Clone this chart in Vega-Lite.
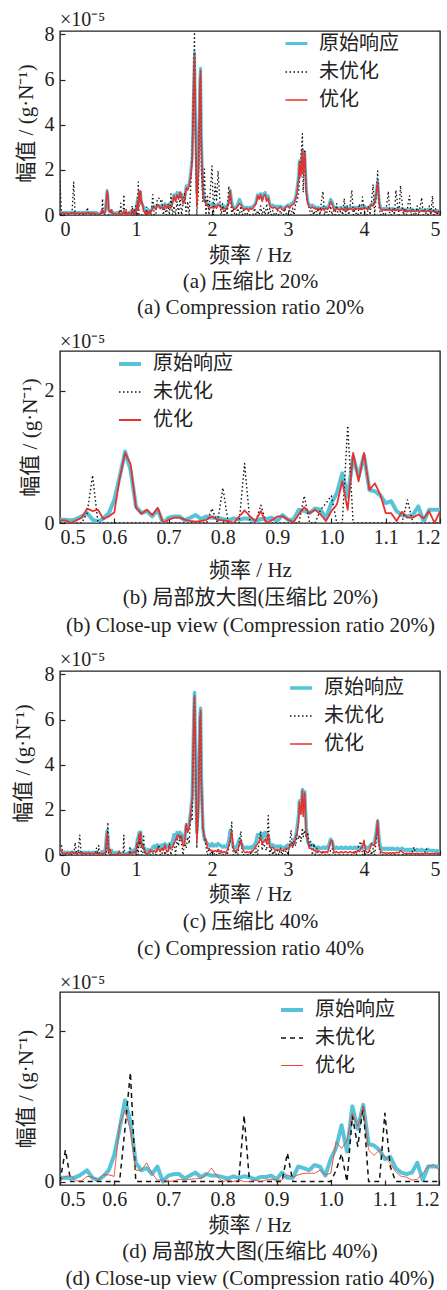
{
  "$schema": "https://vega.github.io/schema/vega-lite/v6.json",
  "padding": {"left": 11, "top": 9, "right": 0, "bottom": 0},
  "config": {
    "font": "Liberation Serif, Noto Sans CJK SC",
    "view": {"stroke": "#222", "strokeWidth": 1.4},
    "axis": {"grid": false, "domain": false, "tickSize": -5, "tickColor": "#222", "tickWidth": 1.2, "labelFontSize": 20, "labelColor": "#222", "titleFontSize": 21, "titleFontWeight": "normal", "titleColor": "#222", "labelPadding": 11},
    "axisX": {"labelPadding": 9},
    "title": {"fontSize": 20, "fontWeight": "normal", "color": "#222", "anchor": "start", "frame": "group"},
    "legend": {"labelFontSize": 20, "labelColor": "#222", "symbolType": "stroke", "symbolSize": 484, "rowPadding": 6, "labelOffset": 10},
    "concat": {"spacing": 13}
  },
  "datasets": {
    "full": [
      {"f":0,"o":0.15,"u2":1.5,"p2":0.12,"u4":0.3,"p4":0.35},
      {"f":0.02,"o":0.12,"u2":0,"p2":0.08,"u4":0.45,"p4":0.15},
      {"f":0.04,"o":0.1,"u2":0,"p2":0.1,"u4":0,"p4":0.05},
      {"f":0.06,"o":0.12,"u2":0,"p2":0.06,"u4":0,"p4":0.08},
      {"f":0.08,"o":0.1,"u2":0,"p2":0.1,"u4":0,"p4":0.06},
      {"f":0.1,"o":0.12,"u2":0,"p2":0.08,"u4":0,"p4":0.1},
      {"f":0.12,"o":0.1,"u2":0,"p2":0.06,"u4":0,"p4":0.05},
      {"f":0.14,"o":0.1,"u2":0,"p2":0.1,"u4":0.1,"p4":0.12},
      {"f":0.16,"o":0.12,"u2":0.2,"p2":0.08,"u4":0,"p4":0.15},
      {"f":0.18,"o":0.1,"u2":1.45,"p2":0.1,"u4":0,"p4":0.08},
      {"f":0.2,"o":0.12,"u2":0,"p2":0.06,"u4":0.55,"p4":0.1},
      {"f":0.22,"o":0.1,"u2":0,"p2":0.08,"u4":0,"p4":0.05},
      {"f":0.24,"o":0.1,"u2":0,"p2":0.1,"u4":0.2,"p4":0.12},
      {"f":0.26,"o":0.12,"u2":0,"p2":0.06,"u4":0.88,"p4":0.1},
      {"f":0.28,"o":0.1,"u2":0,"p2":0.08,"u4":0,"p4":0.06},
      {"f":0.3,"o":0.1,"u2":0,"p2":0.1,"u4":0,"p4":0.1},
      {"f":0.32,"o":0.12,"u2":0,"p2":0.06,"u4":0,"p4":0.05},
      {"f":0.34,"o":0.1,"u2":0,"p2":0.08,"u4":0,"p4":0.08},
      {"f":0.36,"o":0.1,"u2":0.33,"p2":0.1,"u4":0,"p4":0.06},
      {"f":0.38,"o":0.12,"u2":0,"p2":0.06,"u4":0,"p4":0.1},
      {"f":0.4,"o":0.1,"u2":0,"p2":0.08,"u4":0,"p4":0.05},
      {"f":0.42,"o":0.1,"u2":0,"p2":0.1,"u4":0,"p4":0.08},
      {"f":0.44,"o":0.12,"u2":0,"p2":0.06,"u4":0,"p4":0.05},
      {"f":0.46,"o":0.1,"u2":0,"p2":0.08,"u4":0,"p4":0.1},
      {"f":0.48,"o":0.12,"u2":0,"p2":0.06,"u4":0.3,"p4":0.08},
      {"f":0.5,"o":0.05,"u2":0,"p2":0.04,"u4":0,"p4":0},
      {"f":0.51,"o":0.05,"u2":0,"p2":0.04,"u4":0.42,"p4":0.07},
      {"f":0.52,"o":0.04,"u2":0,"p2":0,"u4":0,"p4":0.08},
      {"f":0.53,"o":0.06,"u2":0,"p2":0.04,"u4":0,"p4":0.01},
      {"f":0.54,"o":0.1,"u2":0,"p2":0.08,"u4":0,"p4":0.01},
      {"f":0.55,"o":0.15,"u2":0.15,"p2":0.22,"u4":0,"p4":0.07},
      {"f":0.56,"o":0.05,"u2":0.72,"p2":0.18,"u4":0,"p4":0.06},
      {"f":0.57,"o":0.02,"u2":0,"p2":0.2,"u4":0,"p4":0.02},
      {"f":0.58,"o":0.07,"u2":0,"p2":0.06,"u4":0,"p4":0.09},
      {"f":0.59,"o":0.15,"u2":0,"p2":0.1,"u4":0,"p4":0.09},
      {"f":0.6,"o":0.35,"u2":0,"p2":0.16,"u4":0,"p4":0.07},
      {"f":0.61,"o":0.7,"u2":0,"p2":0.68,"u4":0,"p4":0.75},
      {"f":0.62,"o":1.08,"u2":0,"p2":1.06,"u4":0.7,"p4":0.95},
      {"f":0.63,"o":0.8,"u2":0,"p2":0.89,"u4":1.45,"p4":0.69},
      {"f":0.64,"o":0.25,"u2":0,"p2":0.23,"u4":0,"p4":0.15},
      {"f":0.65,"o":0.15,"u2":0,"p2":0.14,"u4":0,"p4":0.15},
      {"f":0.66,"o":0.18,"u2":0,"p2":0.2,"u4":0,"p4":0.25},
      {"f":0.67,"o":0.1,"u2":0,"p2":0.12,"u4":0,"p4":0.11},
      {"f":0.68,"o":0.2,"u2":0,"p2":0.23,"u4":0,"p4":0.02},
      {"f":0.69,"o":0,"u2":0,"p2":0,"u4":0,"p4":0.02},
      {"f":0.7,"o":0.08,"u2":0,"p2":0.05,"u4":0,"p4":0},
      {"f":0.71,"o":0.1,"u2":0,"p2":0.08,"u4":0,"p4":0.01},
      {"f":0.72,"o":0.1,"u2":0,"p2":0.08,"u4":0,"p4":0.03},
      {"f":0.73,"o":0.04,"u2":0,"p2":0.05,"u4":0,"p4":0.02},
      {"f":0.74,"o":0.08,"u2":0,"p2":0.03,"u4":0,"p4":0.03},
      {"f":0.75,"o":0.12,"u2":0,"p2":0.02,"u4":0,"p4":0.04},
      {"f":0.76,"o":0.06,"u2":0,"p2":0.03,"u4":0,"p4":0.04},
      {"f":0.77,"o":0.1,"u2":0,"p2":0.05,"u4":0,"p4":0.09},
      {"f":0.78,"o":0.08,"u2":0.22,"p2":0.1,"u4":0,"p4":0.18},
      {"f":0.79,"o":0.08,"u2":0,"p2":0.05,"u4":0,"p4":0.07},
      {"f":0.8,"o":0.06,"u2":0.53,"p2":0.04,"u4":0,"p4":0},
      {"f":0.81,"o":0.04,"u2":0,"p2":0.03,"u4":0,"p4":0.02},
      {"f":0.82,"o":0.07,"u2":0,"p2":0,"u4":0,"p4":0},
      {"f":0.83,"o":0.05,"u2":0,"p2":0.1,"u4":0,"p4":0.02},
      {"f":0.84,"o":0.07,"u2":0.9,"p2":0.19,"u4":0.88,"p4":0},
      {"f":0.85,"o":0.06,"u2":0,"p2":0.1,"u4":0,"p4":0},
      {"f":0.86,"o":0.03,"u2":0,"p2":0.03,"u4":0,"p4":0.02},
      {"f":0.87,"o":0.06,"u2":0.27,"p2":0.18,"u4":0,"p4":0},
      {"f":0.88,"o":0.06,"u2":0,"p2":0,"u4":0,"p4":0.02},
      {"f":0.89,"o":0.08,"u2":0,"p2":0.04,"u4":0,"p4":0.03},
      {"f":0.9,"o":0.03,"u2":0,"p2":0.1,"u4":0,"p4":0.02},
      {"f":0.91,"o":0.12,"u2":0,"p2":0.1,"u4":0,"p4":0.02},
      {"f":0.92,"o":0.05,"u2":0,"p2":0.05,"u4":0.38,"p4":0.09},
      {"f":0.93,"o":0.05,"u2":0,"p2":0.01,"u4":0,"p4":0.06},
      {"f":0.94,"o":0.2,"u2":0,"p2":0.13,"u4":0,"p4":0.09},
      {"f":0.95,"o":0.18,"u2":0.41,"p2":0.24,"u4":0,"p4":0.11},
      {"f":0.96,"o":0.15,"u2":0,"p2":0.15,"u4":0,"p4":0.11},
      {"f":0.97,"o":0.22,"u2":0,"p2":0.2,"u4":0,"p4":0.11},
      {"f":0.98,"o":0.2,"u2":0.2,"p2":0.13,"u4":0,"p4":0.15},
      {"f":0.99,"o":0.08,"u2":0.3,"p2":0.03,"u4":0,"p4":0.09},
      {"f":1,"o":0.3,"u2":0.41,"p2":0.18,"u4":0,"p4":0.11},
      {"f":1.01,"o":0.45,"u2":0,"p2":0.28,"u4":0.15,"p4":0.53},
      {"f":1.02,"o":0.75,"u2":0,"p2":0.63,"u4":0.37,"p4":0.44},
      {"f":1.03,"o":0.4,"u2":1.47,"p2":0.2,"u4":0,"p4":0.55},
      {"f":1.04,"o":1,"u2":0,"p2":1.06,"u4":0.87,"p4":0.91},
      {"f":1.05,"o":0.7,"u2":0,"p2":0.63,"u4":0.47,"p4":0.73},
      {"f":1.06,"o":1.02,"u2":0,"p2":1.06,"u4":1,"p4":1},
      {"f":1.07,"o":0.5,"u2":0,"p2":0.5,"u4":0,"p4":0.42},
      {"f":1.08,"o":0.48,"u2":0,"p2":0.6,"u4":0,"p4":0.35},
      {"f":1.09,"o":0.42,"u2":0,"p2":0.43,"u4":0,"p4":0.42},
      {"f":1.1,"o":0.3,"u2":0,"p2":0.15,"u4":0.91,"p4":0.33},
      {"f":1.11,"o":0.33,"u2":0,"p2":0.15,"u4":0.2,"p4":0.24},
      {"f":1.12,"o":0.18,"u2":0,"p2":0.03,"u4":0,"p4":0.13},
      {"f":1.13,"o":0.12,"u2":0,"p2":0.17,"u4":0,"p4":0.07},
      {"f":1.14,"o":0.1,"u2":0.35,"p2":0.08,"u4":0,"p4":0.06},
      {"f":1.15,"o":0.12,"u2":0,"p2":0.08,"u4":0,"p4":0.02},
      {"f":1.16,"o":0.25,"u2":0,"p2":0.13,"u4":0,"p4":0.03},
      {"f":1.17,"o":0.02,"u2":0,"p2":0.07,"u4":0,"p4":0.11},
      {"f":1.18,"o":0.2,"u2":0,"p2":0.18,"u4":0,"p4":0.2},
      {"f":1.19,"o":0.2,"u2":0,"p2":0,"u4":0,"p4":0.23},
      {"f":1.2,"o":0.2,"u2":0,"p2":0.18,"u4":0,"p4":0.15},
      {"f":1.22,"o":0.35,"u2":0.9,"p2":0.3,"u4":0.1,"p4":0.15},
      {"f":1.24,"o":0.4,"u2":0,"p2":0.35,"u4":0,"p4":0.2},
      {"f":1.26,"o":0.3,"u2":0,"p2":0.25,"u4":0,"p4":0.1},
      {"f":1.28,"o":0.45,"u2":0.7,"p2":0.4,"u4":0.2,"p4":0.3},
      {"f":1.3,"o":0.4,"u2":0.75,"p2":0.45,"u4":0.45,"p4":0.25},
      {"f":1.32,"o":0.3,"u2":0.6,"p2":0.3,"u4":0,"p4":0.15},
      {"f":1.34,"o":0.45,"u2":0.7,"p2":0.35,"u4":0,"p4":0.3},
      {"f":1.36,"o":0.35,"u2":0,"p2":0.25,"u4":0.35,"p4":0.2},
      {"f":1.38,"o":0.5,"u2":0.3,"p2":0.45,"u4":0,"p4":0.45},
      {"f":1.4,"o":0.4,"u2":0,"p2":0.3,"u4":0.2,"p4":0.2},
      {"f":1.42,"o":0.35,"u2":0.5,"p2":0.4,"u4":0,"p4":0.15},
      {"f":1.44,"o":0.5,"u2":0,"p2":0.35,"u4":0.5,"p4":0.4},
      {"f":1.46,"o":0.45,"u2":0.93,"p2":0.3,"u4":0,"p4":0.3},
      {"f":1.48,"o":0.6,"u2":0,"p2":0.5,"u4":0.3,"p4":0.35},
      {"f":1.5,"o":0.9,"u2":0.4,"p2":0.85,"u4":0.55,"p4":0.5},
      {"f":1.52,"o":0.7,"u2":0,"p2":0.6,"u4":0,"p4":0.65},
      {"f":1.54,"o":1,"u2":0.6,"p2":0.9,"u4":0.7,"p4":0.85},
      {"f":1.56,"o":0.8,"u2":0,"p2":0.7,"u4":0.4,"p4":0.9},
      {"f":1.58,"o":1,"u2":0.8,"p2":1,"u4":0.9,"p4":0.7},
      {"f":1.6,"o":0.9,"u2":0,"p2":0.85,"u4":0.5,"p4":0.85},
      {"f":1.62,"o":0.6,"u2":0.5,"p2":0.5,"u4":0,"p4":0.4},
      {"f":1.64,"o":0.7,"u2":1,"p2":0.6,"u4":0.6,"p4":0.5},
      {"f":1.66,"o":1.3,"u2":0,"p2":1.2,"u4":0.3,"p4":1.4},
      {"f":1.68,"o":1.2,"u2":0.6,"p2":1.1,"u4":0.8,"p4":1},
      {"f":1.7,"o":1.4,"u2":0,"p2":1.3,"u4":0.5,"p4":1.2},
      {"f":1.72,"o":1.9,"u2":1.2,"p2":1.7,"u4":1.8,"p4":1.9},
      {"f":1.74,"o":2.6,"u2":2.7,"p2":2.4,"u4":1.5,"p4":2.5},
      {"f":1.76,"o":6,"u2":6.5,"p2":5.8,"u4":5.8,"p4":6},
      {"f":1.77,"o":7.2,"u2":8.1,"p2":7.1,"u4":7,"p4":7.05},
      {"f":1.78,"o":5,"u2":4,"p2":4.8,"u4":5,"p4":4.9},
      {"f":1.8,"o":1,"u2":0,"p2":0.4,"u4":0.3,"p4":0.6},
      {"f":1.82,"o":2.2,"u2":1,"p2":2,"u4":2,"p4":2.1},
      {"f":1.84,"o":6,"u2":5,"p2":5.8,"u4":5.8,"p4":5.9},
      {"f":1.85,"o":6.5,"u2":6.2,"p2":6.4,"u4":6.3,"p4":6.4},
      {"f":1.86,"o":3.5,"u2":2,"p2":3.2,"u4":3,"p4":3.3},
      {"f":1.88,"o":1.2,"u2":0.6,"p2":1,"u4":1.2,"p4":1.2},
      {"f":1.9,"o":0.7,"u2":2.03,"p2":0.6,"u4":0.8,"p4":0.8},
      {"f":1.92,"o":0.6,"u2":0,"p2":0.5,"u4":0.4,"p4":0.7},
      {"f":1.94,"o":0.5,"u2":0.9,"p2":0.4,"u4":0,"p4":0.3},
      {"f":1.96,"o":0.45,"u2":0,"p2":0.35,"u4":0.3,"p4":0.3},
      {"f":1.98,"o":0.4,"u2":1.2,"p2":0.3,"u4":0,"p4":0.2},
      {"f":2,"o":0.5,"u2":2.17,"p2":0.35,"u4":0.2,"p4":0.2},
      {"f":2.02,"o":0.4,"u2":0,"p2":0.3,"u4":0,"p4":0.15},
      {"f":2.04,"o":0.45,"u2":1.4,"p2":0.4,"u4":0.1,"p4":0.2},
      {"f":2.06,"o":0.4,"u2":0.6,"p2":0.3,"u4":0,"p4":0.15},
      {"f":2.08,"o":0.5,"u2":1.95,"p2":0.45,"u4":0.2,"p4":0.25},
      {"f":2.1,"o":0.45,"u2":0.8,"p2":0.4,"u4":0,"p4":0.15},
      {"f":2.12,"o":0.4,"u2":0,"p2":0.3,"u4":0.1,"p4":0.2},
      {"f":2.14,"o":0.35,"u2":0.5,"p2":0.25,"u4":0,"p4":0.1},
      {"f":2.16,"o":0.4,"u2":0,"p2":0.3,"u4":0,"p4":0.15},
      {"f":2.18,"o":0.35,"u2":0.3,"p2":0.25,"u4":0.1,"p4":0.1},
      {"f":2.2,"o":0.4,"u2":0,"p2":0.35,"u4":0,"p4":0.2},
      {"f":2.22,"o":0.6,"u2":1.28,"p2":0.5,"u4":0.3,"p4":0.4},
      {"f":2.24,"o":1.1,"u2":0.9,"p2":1.05,"u4":0.6,"p4":0.7},
      {"f":2.26,"o":0.6,"u2":0,"p2":0.4,"u4":1.45,"p4":1.05},
      {"f":2.28,"o":0.35,"u2":0.3,"p2":0.3,"u4":0,"p4":0.3},
      {"f":2.3,"o":0.3,"u2":0,"p2":0.25,"u4":0,"p4":0.15},
      {"f":2.32,"o":0.35,"u2":0,"p2":0.3,"u4":0.2,"p4":0.2},
      {"f":2.34,"o":0.5,"u2":0.3,"p2":0.4,"u4":0,"p4":0.25},
      {"f":2.36,"o":0.7,"u2":0,"p2":0.5,"u4":0.6,"p4":0.45},
      {"f":2.38,"o":0.55,"u2":0.4,"p2":0.45,"u4":1.05,"p4":0.65},
      {"f":2.4,"o":0.4,"u2":0,"p2":0.3,"u4":0,"p4":0.3},
      {"f":2.42,"o":0.35,"u2":0.3,"p2":0.25,"u4":0,"p4":0.15},
      {"f":2.44,"o":0.3,"u2":0,"p2":0.25,"u4":0,"p4":0.1},
      {"f":2.46,"o":0.35,"u2":0,"p2":0.3,"u4":0,"p4":0.15},
      {"f":2.48,"o":0.3,"u2":0.2,"p2":0.2,"u4":0,"p4":0.1},
      {"f":2.5,"o":0.35,"u2":0,"p2":0.3,"u4":0,"p4":0.15},
      {"f":2.52,"o":0.3,"u2":0,"p2":0.25,"u4":0.2,"p4":0.1},
      {"f":2.54,"o":0.4,"u2":0,"p2":0.3,"u4":0,"p4":0.2},
      {"f":2.56,"o":0.45,"u2":0.3,"p2":0.4,"u4":0,"p4":0.3},
      {"f":2.58,"o":0.6,"u2":0,"p2":0.5,"u4":0.3,"p4":0.4},
      {"f":2.6,"o":0.9,"u2":0.2,"p2":0.85,"u4":0,"p4":0.5},
      {"f":2.62,"o":0.8,"u2":0,"p2":0.7,"u4":0.6,"p4":0.6},
      {"f":2.64,"o":0.95,"u2":0.4,"p2":0.9,"u4":1.05,"p4":0.8},
      {"f":2.66,"o":0.7,"u2":0,"p2":0.6,"u4":0.2,"p4":0.5},
      {"f":2.68,"o":0.95,"u2":0.3,"p2":0.85,"u4":0.6,"p4":0.6},
      {"f":2.7,"o":1,"u2":0,"p2":0.9,"u4":0.3,"p4":0.7},
      {"f":2.72,"o":0.7,"u2":0.5,"p2":0.6,"u4":0.2,"p4":0.5},
      {"f":2.74,"o":0.85,"u2":0,"p2":0.75,"u4":1.75,"p4":0.95},
      {"f":2.76,"o":0.5,"u2":0.3,"p2":0.4,"u4":0,"p4":0.35},
      {"f":2.78,"o":0.4,"u2":0,"p2":0.35,"u4":0.3,"p4":0.3},
      {"f":2.8,"o":0.45,"u2":0.2,"p2":0.3,"u4":0,"p4":0.35},
      {"f":2.82,"o":0.4,"u2":0,"p2":0.35,"u4":0.2,"p4":0.25},
      {"f":2.84,"o":0.35,"u2":0,"p2":0.3,"u4":0,"p4":0.2},
      {"f":2.86,"o":0.4,"u2":0.3,"p2":0.25,"u4":0.2,"p4":0.25},
      {"f":2.88,"o":0.35,"u2":0,"p2":0.3,"u4":0,"p4":0.2},
      {"f":2.9,"o":0.4,"u2":0.2,"p2":0.35,"u4":0.3,"p4":0.25},
      {"f":2.92,"o":0.35,"u2":0,"p2":0.25,"u4":0,"p4":0.2},
      {"f":2.94,"o":0.3,"u2":0,"p2":0.2,"u4":0.2,"p4":0.2},
      {"f":2.96,"o":0.35,"u2":0.3,"p2":0.3,"u4":0,"p4":0.25},
      {"f":2.98,"o":0.4,"u2":0,"p2":0.35,"u4":0.3,"p4":0.3},
      {"f":3,"o":0.45,"u2":0,"p2":0.4,"u4":0,"p4":0.3},
      {"f":3.02,"o":0.4,"u2":0.2,"p2":0.3,"u4":0.4,"p4":0.35},
      {"f":3.04,"o":0.5,"u2":0,"p2":0.4,"u4":1.1,"p4":0.5},
      {"f":3.06,"o":0.55,"u2":0.3,"p2":0.45,"u4":0.3,"p4":0.4},
      {"f":3.08,"o":0.6,"u2":0,"p2":0.5,"u4":0.6,"p4":0.5},
      {"f":3.1,"o":0.8,"u2":0.5,"p2":0.7,"u4":0.4,"p4":0.8},
      {"f":3.12,"o":1.2,"u2":0.6,"p2":1,"u4":0.9,"p4":1},
      {"f":3.14,"o":1.8,"u2":1,"p2":1.6,"u4":0.7,"p4":1.5},
      {"f":3.15,"o":2.4,"u2":1.5,"p2":2.35,"u4":0.9,"p4":2.35},
      {"f":3.17,"o":1.9,"u2":2.5,"p2":1.7,"u4":0.6,"p4":1.8},
      {"f":3.19,"o":2.9,"u2":3.6,"p2":2.9,"u4":1.2,"p4":2.85},
      {"f":3.2,"o":1.9,"u2":1,"p2":1.8,"u4":0.8,"p4":1.7},
      {"f":3.22,"o":2.8,"u2":2.9,"p2":2.75,"u4":1.1,"p4":2.75},
      {"f":3.24,"o":1.2,"u2":1,"p2":1,"u4":0.8,"p4":0.9},
      {"f":3.26,"o":0.6,"u2":0.5,"p2":0.5,"u4":1,"p4":0.6},
      {"f":3.28,"o":0.45,"u2":0.3,"p2":0.35,"u4":0.4,"p4":0.3},
      {"f":3.3,"o":0.4,"u2":0,"p2":0.3,"u4":0.6,"p4":0.3},
      {"f":3.32,"o":0.45,"u2":0.2,"p2":0.35,"u4":0,"p4":0.25},
      {"f":3.34,"o":0.4,"u2":0,"p2":0.3,"u4":0.5,"p4":0.2},
      {"f":3.36,"o":0.35,"u2":0.3,"p2":0.3,"u4":0,"p4":0.2},
      {"f":3.38,"o":0.3,"u2":0,"p2":0.25,"u4":0.3,"p4":0.15},
      {"f":3.4,"o":0.35,"u2":0.3,"p2":0.3,"u4":0,"p4":0.2},
      {"f":3.42,"o":0.3,"u2":0,"p2":0.25,"u4":0,"p4":0.15},
      {"f":3.44,"o":0.3,"u2":0.6,"p2":0.2,"u4":0,"p4":0.1},
      {"f":3.46,"o":0.35,"u2":1.05,"p2":0.3,"u4":0.2,"p4":0.15},
      {"f":3.48,"o":0.3,"u2":0,"p2":0.25,"u4":0,"p4":0.1},
      {"f":3.5,"o":0.35,"u2":0.3,"p2":0.3,"u4":0,"p4":0.15},
      {"f":3.52,"o":0.3,"u2":0,"p2":0.25,"u4":0,"p4":0.1},
      {"f":3.54,"o":0.45,"u2":0,"p2":0.35,"u4":0,"p4":0.3},
      {"f":3.56,"o":0.7,"u2":0.4,"p2":0.6,"u4":0.2,"p4":0.6},
      {"f":3.58,"o":0.6,"u2":0,"p2":0.5,"u4":0.3,"p4":0.65},
      {"f":3.6,"o":0.35,"u2":0.2,"p2":0.25,"u4":0,"p4":0.2},
      {"f":3.62,"o":0.3,"u2":0,"p2":0.2,"u4":0,"p4":0.1},
      {"f":3.64,"o":0.35,"u2":0.5,"p2":0.3,"u4":0,"p4":0.15},
      {"f":3.66,"o":0.3,"u2":0,"p2":0.25,"u4":0,"p4":0.1},
      {"f":3.68,"o":0.3,"u2":0,"p2":0.2,"u4":0,"p4":0.1},
      {"f":3.7,"o":0.35,"u2":0.3,"p2":0.3,"u4":0,"p4":0.15},
      {"f":3.72,"o":0.3,"u2":0,"p2":0.25,"u4":0,"p4":0.1},
      {"f":3.74,"o":0.3,"u2":0.73,"p2":0.2,"u4":0,"p4":0.12},
      {"f":3.76,"o":0.35,"u2":0,"p2":0.3,"u4":0,"p4":0.15},
      {"f":3.78,"o":0.3,"u2":0.4,"p2":0.2,"u4":0,"p4":0.1},
      {"f":3.8,"o":0.3,"u2":0,"p2":0.25,"u4":0,"p4":0.12},
      {"f":3.82,"o":0.35,"u2":0.5,"p2":0.3,"u4":0,"p4":0.15},
      {"f":3.84,"o":0.3,"u2":1.1,"p2":0.25,"u4":0,"p4":0.1},
      {"f":3.86,"o":0.3,"u2":0,"p2":0.2,"u4":0,"p4":0.12},
      {"f":3.88,"o":0.35,"u2":0.3,"p2":0.3,"u4":0.2,"p4":0.15},
      {"f":3.9,"o":0.3,"u2":0,"p2":0.25,"u4":0,"p4":0.1},
      {"f":3.92,"o":0.35,"u2":0,"p2":0.3,"u4":0.3,"p4":0.2},
      {"f":3.94,"o":0.3,"u2":0.5,"p2":0.25,"u4":0.5,"p4":0.15},
      {"f":3.96,"o":0.35,"u2":0,"p2":0.3,"u4":0.6,"p4":0.3},
      {"f":3.98,"o":0.3,"u2":0.8,"p2":0.25,"u4":0,"p4":0.4},
      {"f":4,"o":0.4,"u2":0.3,"p2":0.35,"u4":0.2,"p4":0.65},
      {"f":4.02,"o":0.35,"u2":0,"p2":0.3,"u4":0,"p4":0.2},
      {"f":4.04,"o":0.3,"u2":0,"p2":0.25,"u4":0,"p4":0.1},
      {"f":4.06,"o":0.35,"u2":0.4,"p2":0.3,"u4":0,"p4":0.12},
      {"f":4.08,"o":0.4,"u2":0,"p2":0.35,"u4":0.2,"p4":0.3},
      {"f":4.1,"o":0.5,"u2":0.6,"p2":0.45,"u4":0,"p4":0.5},
      {"f":4.12,"o":0.5,"u2":1.35,"p2":0.4,"u4":0.3,"p4":0.45},
      {"f":4.14,"o":0.6,"u2":0,"p2":0.55,"u4":0,"p4":0.4},
      {"f":4.16,"o":1,"u2":0.8,"p2":0.9,"u4":0.6,"p4":0.9},
      {"f":4.18,"o":1.5,"u2":1.95,"p2":1.45,"u4":1.2,"p4":1.55},
      {"f":4.2,"o":0.6,"u2":0.3,"p2":0.5,"u4":0.3,"p4":0.4},
      {"f":4.22,"o":0.3,"u2":0,"p2":0.25,"u4":0,"p4":0.15},
      {"f":4.24,"o":0.25,"u2":0.2,"p2":0.2,"u4":0,"p4":0.1},
      {"f":4.26,"o":0.3,"u2":0,"p2":0.25,"u4":0,"p4":0.1},
      {"f":4.28,"o":0.25,"u2":0,"p2":0.2,"u4":0,"p4":0.08},
      {"f":4.3,"o":0.3,"u2":0.5,"p2":0.25,"u4":0,"p4":0.1},
      {"f":4.32,"o":0.25,"u2":1.05,"p2":0.2,"u4":0,"p4":0.08},
      {"f":4.34,"o":0.3,"u2":0,"p2":0.25,"u4":0,"p4":0.1},
      {"f":4.36,"o":0.25,"u2":0,"p2":0.2,"u4":0,"p4":0.08},
      {"f":4.38,"o":0.3,"u2":0.3,"p2":0.25,"u4":0,"p4":0.1},
      {"f":4.4,"o":0.25,"u2":0,"p2":0.2,"u4":0,"p4":0.08},
      {"f":4.42,"o":0.25,"u2":1.1,"p2":0.2,"u4":0,"p4":0.1},
      {"f":4.44,"o":0.3,"u2":0.5,"p2":0.25,"u4":0,"p4":0.12},
      {"f":4.46,"o":0.25,"u2":0,"p2":0.2,"u4":0,"p4":0.1},
      {"f":4.48,"o":0.25,"u2":1.3,"p2":0.2,"u4":0,"p4":0.2},
      {"f":4.5,"o":0.3,"u2":0.6,"p2":0.25,"u4":0,"p4":0.15},
      {"f":4.52,"o":0.25,"u2":0,"p2":0.2,"u4":0,"p4":0.08},
      {"f":4.54,"o":0.2,"u2":0.3,"p2":0.15,"u4":0,"p4":0.05},
      {"f":4.56,"o":0.25,"u2":0,"p2":0.2,"u4":0,"p4":0.08},
      {"f":4.58,"o":0.2,"u2":0.5,"p2":0.15,"u4":0,"p4":0.05},
      {"f":4.6,"o":0.25,"u2":0.85,"p2":0.2,"u4":0,"p4":0.08},
      {"f":4.62,"o":0.2,"u2":0,"p2":0.15,"u4":0,"p4":0.05},
      {"f":4.64,"o":0.25,"u2":0.3,"p2":0.2,"u4":0.2,"p4":0.08},
      {"f":4.66,"o":0.2,"u2":0,"p2":0.15,"u4":0.35,"p4":0.05},
      {"f":4.68,"o":0.2,"u2":0,"p2":0.15,"u4":0,"p4":0.05},
      {"f":4.7,"o":0.25,"u2":0.4,"p2":0.2,"u4":0,"p4":0.08},
      {"f":4.72,"o":0.2,"u2":0,"p2":0.15,"u4":0,"p4":0.05},
      {"f":4.74,"o":0.2,"u2":0.4,"p2":0.15,"u4":0,"p4":0.05},
      {"f":4.76,"o":0.25,"u2":0.77,"p2":0.2,"u4":0,"p4":0.08},
      {"f":4.78,"o":0.2,"u2":0,"p2":0.15,"u4":0,"p4":0.05},
      {"f":4.8,"o":0.2,"u2":0.3,"p2":0.15,"u4":0.1,"p4":0.05},
      {"f":4.82,"o":0.2,"u2":0,"p2":0.15,"u4":0.27,"p4":0.05},
      {"f":4.84,"o":0.25,"u2":0,"p2":0.2,"u4":0,"p4":0.08},
      {"f":4.86,"o":0.2,"u2":0.4,"p2":0.15,"u4":0,"p4":0.05},
      {"f":4.88,"o":0.2,"u2":0,"p2":0.15,"u4":0,"p4":0.05},
      {"f":4.9,"o":0.2,"u2":0.85,"p2":0.15,"u4":0,"p4":0.08},
      {"f":4.92,"o":0.2,"u2":0,"p2":0.15,"u4":0,"p4":0.05},
      {"f":4.94,"o":0.15,"u2":0.3,"p2":0.1,"u4":0,"p4":0.05},
      {"f":4.96,"o":0.2,"u2":0,"p2":0.15,"u4":0,"p4":0.08},
      {"f":4.98,"o":0.15,"u2":0.2,"p2":0.1,"u4":0,"p4":0.05},
      {"f":5,"o":0.2,"u2":0,"p2":0.15,"u4":0,"p4":0.12}
    ]
  },
  "vconcat": [
    {
      "width": 380, "height": 184,
      "data": {"name": "full"},
      "title": {"text": "×10⁻⁵", "offset": -6},
      "transform": [{"fold": ["o", "u2", "p2"], "as": ["k", "v"]}],
      "mark": {"type": "line", "clip": true, "strokeJoin": "round"},
      "encoding": {
        "x": {"field": "f", "type": "quantitative", "scale": {"domain": [0, 5], "nice": false}, "axis": {"values": [0, 1, 2, 3, 4, 5], "format": "d", "title": ["频率 / Hz", "(a) 压缩比 20%", "(a) Compression ratio 20%"], "titleLineHeight": 26, "titlePadding": 5}},
        "y": {"field": "v", "type": "quantitative", "scale": {"domain": [0, 8.15], "nice": false}, "axis": {"values": [0, 2, 4, 6, 8], "title": "幅值 / (g·N⁻¹)", "titlePadding": 8}},
        "color": {"field": "k", "type": "nominal", "scale": {"domain": ["o", "u2", "p2"], "range": ["#56c3d9", "#111111", "#e8302c"]}, "legend": {"title": null, "orient": "none", "legendX": 224, "legendY": 0, "labelExpr": "datum.label == 'o' ? '原始响应' : (datum.label == 'p2' ? '优化' : '未优化')"}},
        "strokeDash": {"field": "k", "type": "nominal", "scale": {"domain": ["o", "u2", "p2"], "range": [[1, 0], [1.5, 2.5], [1, 0]]}, "legend": {"title": null, "orient": "none", "legendX": 224, "legendY": 0, "labelExpr": "datum.label == 'o' ? '原始响应' : (datum.label == 'p2' ? '优化' : '未优化')"}},
        "strokeWidth": {"field": "k", "type": "nominal", "scale": {"type": "ordinal", "domain": ["o", "u2", "p2"], "range": [3, 1.3, 1.5]}, "legend": {"title": null, "orient": "none", "legendX": 224, "legendY": 0, "labelExpr": "datum.label == 'o' ? '原始响应' : (datum.label == 'p2' ? '优化' : '未优化')"}}
      }
    },
    {
      "width": 380, "height": 172,
      "data": {"name": "full"},
      "title": {"text": "×10⁻⁵", "offset": -1},
      "transform": [{"filter": {"field": "f", "range": [0.5, 1.2]}}, {"fold": ["o", "u2", "p2"], "as": ["k", "v"]}],
      "mark": {"type": "line", "clip": true, "strokeJoin": "round"},
      "encoding": {
        "x": {"field": "f", "type": "quantitative", "scale": {"domain": [0.5, 1.2], "nice": false}, "axis": {"values": [0.5, 0.6, 0.7, 0.8, 0.9, 1.0, 1.1, 1.2], "format": ".1f", "title": ["频率 / Hz", "(b) 局部放大图(压缩比 20%)", "(b) Close-up view (Compression ratio 20%)"], "titleLineHeight": 27.5, "titlePadding": 12}},
        "y": {"field": "v", "type": "quantitative", "scale": {"domain": [0, 2.6], "nice": false}, "axis": {"values": [0, 2], "title": "幅值 / (g·N⁻¹)", "titlePadding": 4}},
        "color": {"field": "k", "type": "nominal", "scale": {"domain": ["o", "u2", "p2"], "range": ["#56c3d9", "#111111", "#e8302c"]}, "legend": {"title": null, "orient": "none", "legendX": 57, "legendY": 0, "labelExpr": "datum.label == 'o' ? '原始响应' : (datum.label == 'p2' ? '优化' : '未优化')"}},
        "strokeDash": {"field": "k", "type": "nominal", "scale": {"domain": ["o", "u2", "p2"], "range": [[1, 0], [1.5, 2.5], [1, 0]]}, "legend": {"title": null, "orient": "none", "legendX": 57, "legendY": 0, "labelExpr": "datum.label == 'o' ? '原始响应' : (datum.label == 'p2' ? '优化' : '未优化')"}},
        "strokeWidth": {"field": "k", "type": "nominal", "scale": {"type": "ordinal", "domain": ["o", "u2", "p2"], "range": [4, 1.4, 1.8]}, "legend": {"title": null, "orient": "none", "legendX": 57, "legendY": 0, "labelExpr": "datum.label == 'o' ? '原始响应' : (datum.label == 'p2' ? '优化' : '未优化')"}}
      }
    },
    {
      "width": 380, "height": 184,
      "data": {"name": "full"},
      "title": {"text": "×10⁻⁵", "offset": -6},
      "transform": [{"fold": ["o", "u4", "p4"], "as": ["k", "v"]}],
      "mark": {"type": "line", "clip": true, "strokeJoin": "round"},
      "encoding": {
        "x": {"field": "f", "type": "quantitative", "scale": {"domain": [0, 5], "nice": false}, "axis": {"values": [0, 1, 2, 3, 4, 5], "format": "d", "title": ["频率 / Hz", "(c) 压缩比 40%", "(c) Compression ratio 40%"], "titleLineHeight": 27, "titlePadding": 4}},
        "y": {"field": "v", "type": "quantitative", "scale": {"domain": [0, 8.15], "nice": false}, "axis": {"values": [0, 2, 4, 6, 8], "title": "幅值 / (g·N⁻¹)", "titlePadding": 11}},
        "color": {"field": "k", "type": "nominal", "scale": {"domain": ["o", "u4", "p4"], "range": ["#56c3d9", "#111111", "#e8302c"]}, "legend": {"title": null, "orient": "none", "legendX": 228, "legendY": 4, "labelExpr": "datum.label == 'o' ? '原始响应' : (datum.label == 'p4' ? '优化' : '未优化')"}},
        "strokeDash": {"field": "k", "type": "nominal", "scale": {"domain": ["o", "u4", "p4"], "range": [[1, 0], [1.5, 2.5], [1, 0]]}, "legend": {"title": null, "orient": "none", "legendX": 228, "legendY": 4, "labelExpr": "datum.label == 'o' ? '原始响应' : (datum.label == 'p4' ? '优化' : '未优化')"}},
        "strokeWidth": {"field": "k", "type": "nominal", "scale": {"type": "ordinal", "domain": ["o", "u4", "p4"], "range": [3.5, 1.3, 1.5]}, "legend": {"title": null, "orient": "none", "legendX": 228, "legendY": 4, "labelExpr": "datum.label == 'o' ? '原始响应' : (datum.label == 'p4' ? '优化' : '未优化')"}}
      }
    },
    {
      "width": 379, "height": 193,
      "data": {"name": "full"},
      "title": {"text": "×10⁻⁵", "offset": -1},
      "transform": [{"filter": {"field": "f", "range": [0.5, 1.2]}}, {"fold": ["o", "u4", "p4"], "as": ["k", "v"]}],
      "mark": {"type": "line", "clip": true, "strokeJoin": "round"},
      "encoding": {
        "x": {"field": "f", "type": "quantitative", "scale": {"domain": [0.5, 1.2], "nice": false}, "axis": {"values": [0.5, 0.6, 0.7, 0.8, 0.9, 1.0, 1.1, 1.2], "format": ".1f", "title": ["频率 / Hz", "(d) 局部放大图(压缩比 40%)", "(d) Close-up view (Compression ratio 40%)"], "titleLineHeight": 26.5, "titlePadding": 5}},
        "y": {"field": "v", "type": "quantitative", "scale": {"domain": [-0.045, 2.52], "nice": false}, "axis": {"values": [0, 2], "title": "幅值 / (g·N⁻¹)", "titlePadding": 8}},
        "color": {"field": "k", "type": "nominal", "scale": {"domain": ["o", "u4", "p4"], "range": ["#56c3d9", "#111111", "#f0442c"]}, "legend": {"title": null, "orient": "none", "legendX": 219, "legendY": 5, "labelExpr": "datum.label == 'o' ? '原始响应' : (datum.label == 'p4' ? '优化' : '未优化')"}},
        "strokeDash": {"field": "k", "type": "nominal", "scale": {"domain": ["o", "u4", "p4"], "range": [[1, 0], [5, 4], [1, 0]]}, "legend": {"title": null, "orient": "none", "legendX": 219, "legendY": 5, "labelExpr": "datum.label == 'o' ? '原始响应' : (datum.label == 'p4' ? '优化' : '未优化')"}},
        "strokeWidth": {"field": "k", "type": "nominal", "scale": {"type": "ordinal", "domain": ["o", "u4", "p4"], "range": [4, 1.5, 1]}, "legend": {"title": null, "orient": "none", "legendX": 219, "legendY": 5, "labelExpr": "datum.label == 'o' ? '原始响应' : (datum.label == 'p4' ? '优化' : '未优化')"}}
      }
    }
  ],
  "resolve": {"scale": {"color": "independent", "strokeDash": "independent", "strokeWidth": "independent"}}
}
